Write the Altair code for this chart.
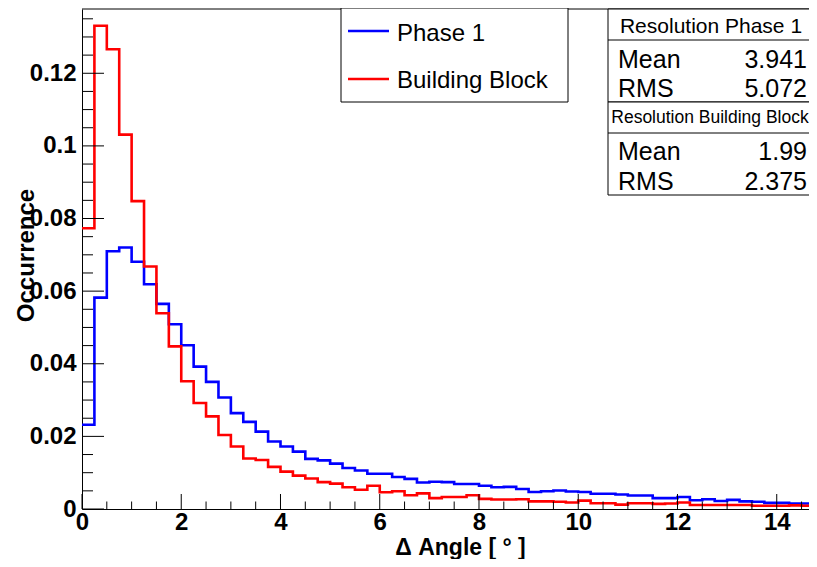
import altair as alt
import pandas as pd

FONT = "Liberation Sans"

# ---------------- data ----------------
bin_width = 0.25
x_max = 14.65
y_max = 0.1377

phase1 = [
    0.0232, 0.0582, 0.0710, 0.0720, 0.0681, 0.0619, 0.0565, 0.0509, 0.0451, 0.0392,
    0.0350, 0.0307, 0.0264, 0.0240, 0.0213, 0.0186, 0.0172, 0.0158, 0.0138, 0.0134,
    0.0125, 0.0113, 0.0106, 0.0097, 0.0097, 0.0088, 0.0083, 0.0073, 0.0075, 0.0074,
    0.0069, 0.0069, 0.0064, 0.0060, 0.0061, 0.0055, 0.0047, 0.0049, 0.0051, 0.0048,
    0.0047, 0.0042, 0.0042, 0.0040, 0.0037, 0.0037, 0.0030, 0.0030, 0.0033, 0.0024,
    0.0027, 0.0022, 0.0025, 0.0021, 0.0020, 0.0017, 0.0017, 0.0015, 0.0015, 0.0016,
]
building_block = [
    0.0773, 0.1331, 0.1266, 0.1031, 0.0848, 0.0668, 0.0539, 0.0448, 0.0352, 0.0292,
    0.0255, 0.0204, 0.0172, 0.0139, 0.0135, 0.0116, 0.0103, 0.0092, 0.0084, 0.0074,
    0.0070, 0.0060, 0.0053, 0.0064, 0.0046, 0.0049, 0.0038, 0.0043, 0.0030, 0.0033,
    0.0033, 0.0038, 0.0028, 0.0026, 0.0026, 0.0027, 0.0021, 0.0021, 0.0020, 0.0018,
    0.0023, 0.0016, 0.0016, 0.0012, 0.0016, 0.0016, 0.0014, 0.0015, 0.0018, 0.0011,
    0.0011, 0.0011, 0.0011, 0.0011, 0.0009, 0.0009, 0.0009, 0.0010, 0.0009, 0.0010,
]
series_names = ["Phase 1", "Building Block"]
series_colors = ["#0000ff", "#ff0000"]

stats_titles = ["Resolution Phase 1", "Resolution Building Block"]
stats_mean = ["3.941", "1.99"]
stats_rms = ["5.072", "2.375"]

x_major = [0, 2, 4, 6, 8, 10, 12, 14]
y_major = [0, 0.02, 0.04, 0.06, 0.08, 0.1, 0.12]

# ---------------- table ----------------
rows = []
for name, vals in zip(series_names, [phase1, building_block]):
    for i, v in enumerate(vals):
        rows.append({"series": name, "x": i * bin_width, "y": v})
    rows.append({"series": name, "x": len(vals) * bin_width, "y": vals[-1]})
df = pd.DataFrame(rows)

x_minor = [k * 0.5 for k in range(1, 30) if (k * 0.5) % 2 != 0]
y_minor = [round(k * 0.005, 3) for k in range(1, 28) if k % 4 != 0]

W, H = 727, 500

xscale = alt.Scale(domain=[0, x_max], nice=False, zero=False)
yscale = alt.Scale(domain=[0, y_max], nice=False, zero=False)

x_axis = alt.Axis(
    values=x_major, format="d", title="Δ Angle [ ° ]",
    grid=False, ticks=False, tickSize=0, domainColor="black", domainWidth=1,
    labelFont=FONT, labelFontSize=24, labelFontWeight="bold", labelColor="black",
    labelPadding=1, labelFlush=False, labelOverlap=False,
    titleFont=FONT, titleFontSize=23, titleFontWeight="bold", titleColor="black",
    titleX=378, titleY=45.5, titleBaseline="alphabetic", titleAlign="center",
)
y_axis = alt.Axis(
    values=y_major, format="~g", title="Occurrence",
    grid=False, ticks=False, tickSize=0, domainColor="black", domainWidth=1,
    labelFont=FONT, labelFontSize=24, labelFontWeight="bold", labelColor="black",
    labelPadding=6, labelFlush=False, labelOverlap=False,
    titleFont=FONT, titleFontSize=24, titleFontWeight="bold", titleColor="black",
    titleX=-49, titleY=246, titleAngle=270, titleBaseline="alphabetic", titleAlign="center",
)

hist = alt.Chart(df).mark_line(interpolate="step-after", strokeWidth=2.6, clip=True).encode(
    x=alt.X("x:Q", scale=xscale, axis=x_axis),
    y=alt.Y("y:Q", scale=yscale, axis=y_axis),
    color=alt.Color("series:N", scale=alt.Scale(domain=series_names, range=series_colors), legend=None),
    order=alt.Order("x:Q"),
)


def xticks(vals, length):
    return alt.Chart(pd.DataFrame({"x": vals})).mark_rule(color="black", strokeWidth=1).encode(
        x=alt.X("x:Q", scale=xscale, axis=x_axis),
        y=alt.value(H), y2=alt.value(H - length),
    )


def yticks(vals, length):
    return alt.Chart(pd.DataFrame({"y": vals})).mark_rule(color="black", strokeWidth=1).encode(
        y=alt.Y("y:Q", scale=yscale, axis=y_axis),
        x=alt.value(0), x2=alt.value(length),
    )


one = pd.DataFrame({"t": [""]})


def box(x1, x2, y1, y2):
    return alt.Chart(one).mark_rect(fill="white", stroke="black", strokeWidth=1).encode(
        x=alt.value(x1), x2=alt.value(x2), y=alt.value(y1), y2=alt.value(y2))


def hline(x1, x2, y, color="black", width=1):
    return alt.Chart(one).mark_rule(color=color, strokeWidth=width).encode(
        x=alt.value(x1), x2=alt.value(x2), y=alt.value(y))


def label(text, x, y, size, align="left", weight="normal"):
    return alt.Chart(pd.DataFrame({"t": [text]})).mark_text(
        font=FONT, fontSize=size, align=align, baseline="alphabetic",
        fontWeight=weight, color="black").encode(
        x=alt.value(x), y=alt.value(y), text="t:N")


layers = [
    hist,
    hline(0, W + 5, 0),  # top frame
    xticks(x_major, 15), xticks(x_minor, 7.5),
    yticks(y_major, 22), yticks(y_minor, 11),
    # legend
    box(259, 486, -1, 93),
    hline(266, 307, 22, series_colors[0], 2.6),
    hline(266, 307, 70, series_colors[1], 2.6),
    label(series_names[0], 315, 31.5, 24),
    label(series_names[1], 315, 79, 24),
    # stats boxes
    box(526, 745, 0, 93),
    hline(526, 745, 31),
    box(526, 745, 93, 186),
    hline(526, 745, 124),
    label(stats_titles[0], 629, 24, 21, "center"),
    label("Mean", 536, 59, 25), label(stats_mean[0], 725, 59, 25, "right"),
    label("RMS", 536, 88, 25), label(stats_rms[0], 725, 88, 25, "right"),
    label(stats_titles[1], 628, 114, 17.5, "center"),
    label("Mean", 536, 151, 25), label(stats_mean[1], 725, 151, 25, "right"),
    label("RMS", 536, 181, 25), label(stats_rms[1], 725, 181, 25, "right"),
]

chart = alt.layer(*layers).properties(
    width=W, height=H,
    padding={"left": 74, "top": 1, "right": 0, "bottom": 50},
    autosize=alt.AutoSizeParams(type="none"),
).configure_view(stroke=None)

chart.save("out.html", embed_options={"renderer": "svg", "actions": False})
